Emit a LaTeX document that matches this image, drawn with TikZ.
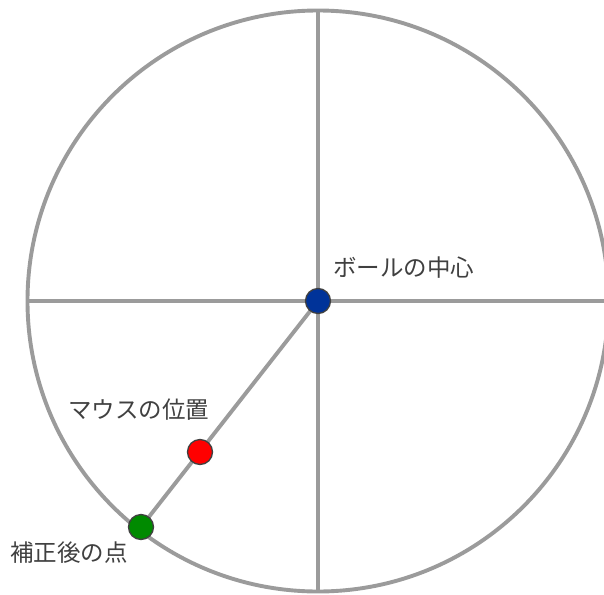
\documentclass[tikz,border=0pt]{standalone}
\usepackage{fontspec}
\newfontfamily\cjk{Noto Sans CJK JP}
\definecolor{linegray}{HTML}{9B9B9B}
\definecolor{txt}{HTML}{404040}
\definecolor{ballblue}{HTML}{003399}
\definecolor{mousered}{HTML}{FF0000}
\definecolor{fixgreen}{HTML}{008A00}
\tikzset{
  guide/.style={draw=linegray, line width=3.9pt},
  dot/.style={circle, draw=black!75, line width=1.3pt, minimum size=25pt, inner sep=0pt},
  lbl/.style={font=\cjk\fontsize{23.5}{26}\selectfont, text=txt, anchor=west, inner sep=0pt}
}
\begin{document}
\begin{tikzpicture}[x=1pt,y=-1pt]
\useasboundingbox (0,0) rectangle (604,594);
\coordinate (c) at (318,301);
\coordinate (gpt) at (141,527);
\coordinate (rpt) at (200,452);
\coordinate (top) at (318,10.5);
\coordinate (bot) at (318,591.5);
\coordinate (lft) at (28,301);
\coordinate (rgt) at (608,301);
\begin{scope}
\clip (0,0) rectangle (604,594);
\draw[guide] (top) -- (bot);
\draw[guide] (lft) -- (rgt);
\draw[guide] (c) circle (290.5);
\end{scope}
\draw[guide] (c) -- (gpt);
\node[dot, fill=fixgreen] (green) at (gpt) {};
\node[dot, fill=mousered] (red) at (rpt) {};
\node[dot, fill=ballblue] (blue) at (c) {};
\node[lbl] (lb) at (333,268) {ボールの中心};
\node[lbl] (lm) at (68,410) {マウスの位置};
\node[lbl] (lg) at (10,553) {補正後の点};
\end{tikzpicture}
\end{document}
